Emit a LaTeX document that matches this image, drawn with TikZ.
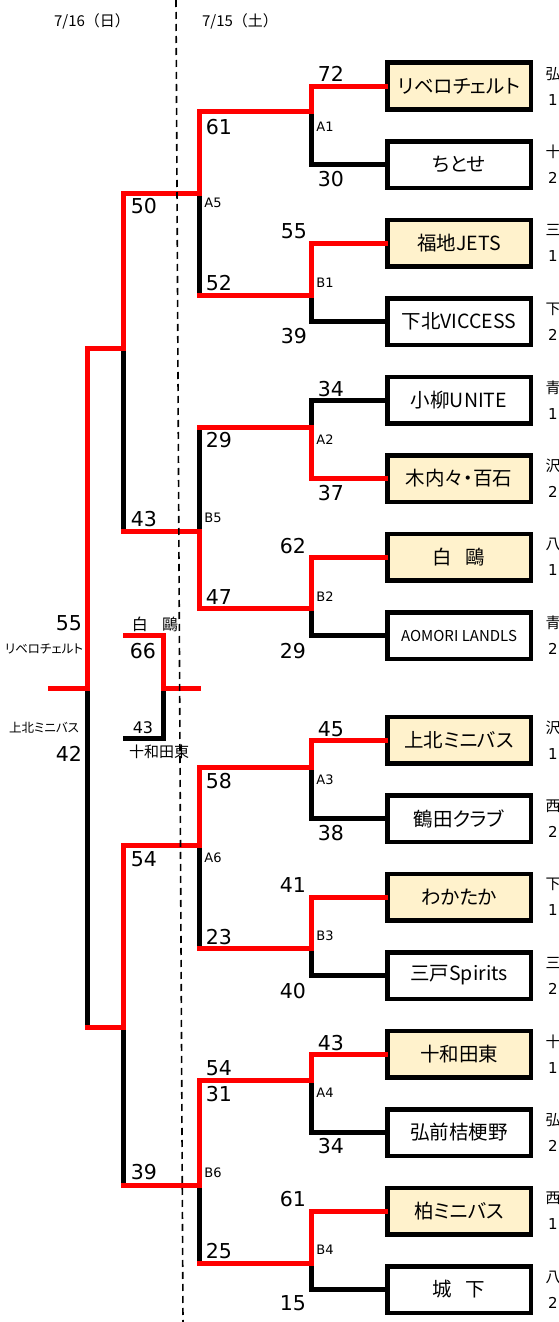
\documentclass[tikz,border=0pt]{standalone}
\usepackage{fontspec}
\setmainfont{DejaVu Sans}
\newfontfamily\jp[RawFeature=+palt]{Noto Sans CJK JP}
\newfontfamily\jpw{Noto Sans CJK JP}
\definecolor{winred}{RGB}{255,0,0}
\definecolor{cream}{RGB}{255,242,204}

\begin{document}
\begin{tikzpicture}[x=1pt, y=-1pt, node distance=78.5pt,
  team/.style={draw, line width=4.5pt, minimum width=143.5pt, minimum height=46.5pt, inner sep=0pt, font=\jp\fontsize{19.5}{22}\selectfont},
  first/.style={team, fill=cream},
  lose/.style={line width=5pt, line cap=rect, black},
  win/.style={line width=5pt, line cap=rect, winred},
  sc/.style={inner sep=0pt, font=\fontsize{20.5}{24}\selectfont},
  mt/.style={inner sep=0pt, font=\fontsize{13}{15}\selectfont},
  pref/.style={inner sep=0pt, align=center, font=\fontsize{15}{26}\selectfont},
  note/.style={inner sep=0pt, font=\jp\fontsize{12.5}{14}\selectfont},
  datesep/.style={line width=1.6pt, dash pattern=on 7pt off 5pt}]
      \useasboundingbox (0,0) rectangle (559,1322);
      \clip (0,0) rectangle (559,1322);

      % dates
      \node[inner sep=0pt, font=\jpw\fontsize{15}{17}\selectfont] (d2) at (92,21) {7/16（日）};
      \node[inner sep=0pt, font=\jpw\fontsize{15}{17}\selectfont] (d1) at (240,21) {7/15（土）};

      % teams
      \node[first] (t1) at (459,86) {リベロチェルト};
      \node[team] (t2) [below of=t1] {ちとせ};
      \node[first] (t3) [below of=t2] {福地JETS};
      \node[team] (t4) [below of=t3] {下北VICCESS};
      \node[team] (t5) [below of=t4] {小柳UNITE};
      \node[first] (t6) [below of=t5] {木内々・百石};
      \node[first] (t7) [below of=t6] {白\hspace{0.7em}鷗};
      \node[team, font=\jp\fontsize{15}{18}\selectfont] (t8) [below of=t7] {AOMORI LANDLS};
      \node[first] (t9) at (459,740) {上北ミニバス};
      \node[team] (t10) [below of=t9] {鶴田クラブ};
      \node[first] (t11) [below of=t10] {わかたか};
      \node[team] (t12) [below of=t11] {三戸Spirits};
      \node[first] (t13) [below of=t12] {十和田東};
      \node[team] (t14) [below of=t13] {弘前桔梗野};
      \node[first] (t15) [below of=t14] {柏ミニバス};
      \node[team] (t16) [below of=t15] {城\hspace{0.7em}下};

      % side notes
      \node[pref] (p1) at ([xshift=20pt]t1.east) {{\jp 弘}\\1};
      \node[pref] (p2) at ([xshift=20pt]t2.east) {{\jp 十}\\2};
      \node[pref] (p3) at ([xshift=20pt]t3.east) {{\jp 三}\\1};
      \node[pref] (p4) at ([xshift=20pt]t4.east) {{\jp 下}\\2};
      \node[pref] (p5) at ([xshift=20pt]t5.east) {{\jp 青}\\1};
      \node[pref] (p6) at ([xshift=20pt]t6.east) {{\jp 沢}\\2};
      \node[pref] (p7) at ([xshift=20pt]t7.east) {{\jp 八}\\1};
      \node[pref] (p8) at ([xshift=20pt]t8.east) {{\jp 青}\\2};
      \node[pref] (p9) at ([xshift=20pt]t9.east) {{\jp 沢}\\1};
      \node[pref] (p10) at ([xshift=20pt]t10.east) {{\jp 西}\\2};
      \node[pref] (p11) at ([xshift=20pt]t11.east) {{\jp 下}\\1};
      \node[pref] (p12) at ([xshift=20pt]t12.east) {{\jp 三}\\2};
      \node[pref] (p13) at ([xshift=20pt]t13.east) {{\jp 十}\\1};
      \node[pref] (p14) at ([xshift=20pt]t14.east) {{\jp 弘}\\2};
      \node[pref] (p15) at ([xshift=20pt]t15.east) {{\jp 西}\\1};
      \node[pref] (p16) at ([xshift=20pt]t16.east) {{\jp 八}\\2};

      % junctions
      \coordinate (a1) at (311,111);
      \coordinate (b1) at (311,295);
      \coordinate (a2) at (311,427);
      \coordinate (b2) at (311,608);
      \coordinate (a3) at (311,767);
      \coordinate (b3) at (311,948);
      \coordinate (a4) at (311,1080);
      \coordinate (b4) at (311,1263);
      \coordinate (a5) at (199,193);
      \coordinate (b5) at (199,531);
      \coordinate (a6) at (199,845);
      \coordinate (b6) at (199,1185);
      \coordinate (s1) at (123,348);
      \coordinate (s2) at (123,1027);
      \coordinate (f) at (87,688);
      \coordinate (champ) at (50,688);
      \coordinate (th1) at (125,635);
      \coordinate (th2) at (125,738);
      \coordinate (tp) at (163,688);
      \coordinate (tpe) at (198,688);

      % losing paths
      \draw[lose] (a1) |- (t2.west);
      \draw[lose] (b1) |- (t4.west);
      \draw[lose] (b1 -| a5) -- (a5);
      \draw[lose] (t5.west) -| (a2);
      \draw[lose] (a2 -| b5) -- (b5);
      \draw[lose] (b5 -| s1) -- (s1);
      \draw[lose] (b2) |- (t8.west);
      \draw[lose] (a3) |- (t10.west);
      \draw[lose] (s2 -| f) -- (f);
      \draw[lose] (b3) |- (t12.west);
      \draw[lose] (b3 -| a6) -- (a6);
      \draw[lose] (a4) |- (t14.west);
      \draw[lose] (b6 -| s2) -- (s2);
      \draw[lose] (b4) |- (t16.west);
      \draw[lose] (b4 -| b6) -- (b6);
      \draw[lose] (th2) -| (tp);

      % winning paths
      \draw[win] (t1.west) -| (a1) -| (a5) -| (s1) -| (f) -- (champ);
      \draw[win] (t3.west) -| (b1) -- (b1 -| a5);
      \draw[win] (t6.west) -| (a2) -- (a2 -| b5);
      \draw[win] (t7.west) -| (b2) -| (b5) -- (b5 -| s1);
      \draw[win] (t9.west) -| (a3) -| (a6) -| (s2) -- (s2 -| f);
      \draw[win] (t11.west) -| (b3) -- (b3 -| a6);
      \draw[win] (t13.west) -| (a4) -| (b6) -- (b6 -| s2);
      \draw[win] (t15.west) -| (b4) -- (b4 -| b6);
      \draw[win] (th1) -| (tp) -- (tpe);

      % scores, first round
      \node[sc] (a1u) at (331,74) {72};
      \node[sc] (a1d) at (331,179) {30};
      \node[sc] (b1u) at (294,231) {55};
      \node[sc] (b1d) at (294,336) {39};
      \node[sc] (a2u) at (331,389) {34};
      \node[sc] (a2d) at (331,493) {37};
      \node[sc] (b2u) at (293,546) {62};
      \node[sc] (b2d) at (293,651) {29};
      \node[sc] (a3u) at (331,729) {45};
      \node[sc] (a3d) at (331,833) {38};
      \node[sc] (b3u) at (293,885) {41};
      \node[sc] (b3d) at (293,991) {40};
      \node[sc] (a4u) at (331,1043) {43};
      \node[sc] (a4d) at (331,1146) {34};
      \node[sc] (b4u) at (293,1199) {61};
      \node[sc] (b4d) at (293,1303) {15};
      % scores, second round
      \node[sc] (a5u) at (219,127) {61};
      \node[sc] (a5d) at (219,283) {52};
      \node[sc] (b5u) at (219,440) {29};
      \node[sc] (b5d) at (219,597) {47};
      \node[sc] (a6u) at (219,781) {58};
      \node[sc] (a6d) at (219,937) {23};
      \node[sc] (b6t) at (219,1068) {54};
      \node[sc] (b6u) at (219,1094) {31};
      \node[sc] (b6d) at (219,1251) {25};
      % semis and final
      \node[sc] (s1u) at (144,206) {50};
      \node[sc] (s1d) at (144,519) {43};
      \node[sc] (s2u) at (144,859) {54};
      \node[sc] (s2d) at (144,1172) {39};
      \node[sc] (fu) at (69,623) {55};
      \node[sc] (fd) at (69,754) {42};
      \node[note] (fun) at (44,649) {リベロチェルト};
      \node[note] (fdn) at (44,728) {上北ミニバス};
      \node[sc] (tpu) at (143,651) {66};
      \node[sc, font=\fontsize{16}{18}\selectfont] (tpd) at (143,728) {43};
      \node[note, font=\jp\fontsize{16}{18}\selectfont] (tpun) at (155,624) {白\hspace{0.9em}鷗};
      \node[note, font=\jp\fontsize{15}{17}\selectfont] (tpdn) at (159,752) {十和田東};

      % match labels
      \node[mt] (m1) at (325,127) {A1};
      \node[mt] (m2) at (325,283) {B1};
      \node[mt] (m3) at (325,440) {A2};
      \node[mt] (m4) at (325,597) {B2};
      \node[mt] (m5) at (325,780) {A3};
      \node[mt] (m6) at (325,936) {B3};
      \node[mt] (m7) at (325,1093) {A4};
      \node[mt] (m8) at (325,1250) {B4};
      \node[mt] (m9) at (213,203) {A5};
      \node[mt] (m10) at (213,518) {B5};
      \node[mt] (m11) at (213,858) {A6};
      \node[mt] (m12) at (213,1173) {B6};

      % day split
      \coordinate (dtop) at (176,0);
      \coordinate (dbot) at (183,1322);
      \draw[datesep] (dtop) -- (dbot);
\end{tikzpicture}
\end{document}
